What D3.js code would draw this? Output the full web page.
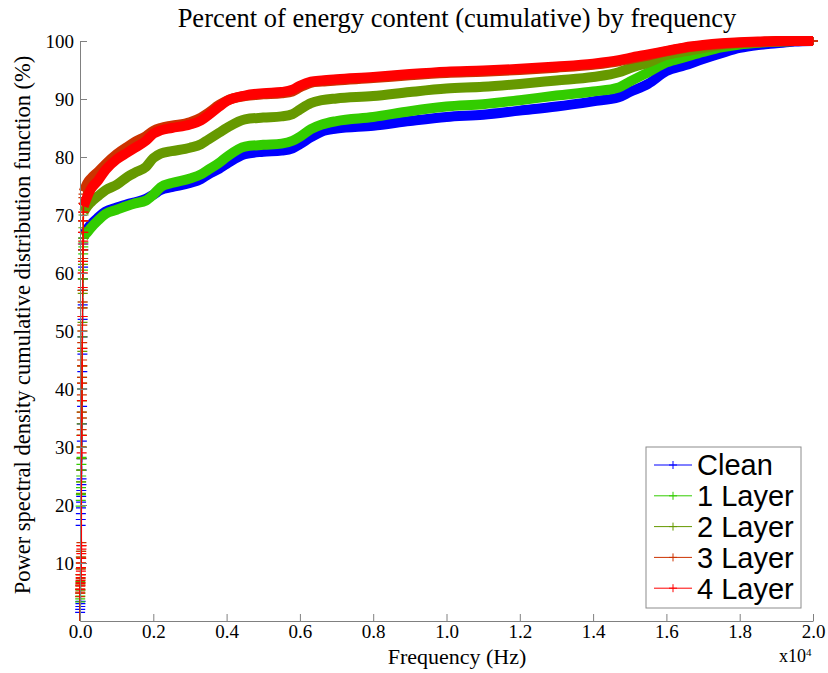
<!DOCTYPE html>
<html>
<head>
<meta charset="utf-8">
<script src="https://cdn.jsdelivr.net/npm/d3@7"></script>
<style>
  body { margin: 0; background: #ffffff; }
  svg { display: block; }
</style>
</head>
<body>
<svg id="chart" width="828" height="673"></svg>
<script>
// Series names and colours
const seriesNames = ["Clean", "1 Layer", "2 Layer", "3 Layer", "4 Layer"];
const seriesColors = ["#0000ff", "#33cc00", "#669900", "#cc3300", "#ff0000"];

// Lowest frequency bins (Hz): the steep initial rise of each CDF
const riseHz = [0, 3, 6, 9, 12, 15, 18, 21, 24, 27, 30, 33, 36, 39, 42, 45, 48,
  51, 54, 57, 60, 63, 66, 69, 72, 75, 78, 81, 84, 87, 90, 93, 96];
const riseClean  = [0, 1.5, 2, 2.5, 3, 3.4, 16.5, 17.5, 18.5, 19.5, 20.5, 21.5, 22.5, 23.5, 24.5, 26, 28,
  31, 34, 37, 40, 43, 46, 49, 52, 54.5, 57, 59, 61, 62.5, 64, 65, 66];
const riseLayer1 = [0, 3.3, 3.8, 4.3, 4.8, 5.3, 19.8, 20.8, 21.8, 23, 24, 25, 26, 27, 28.2, 30, 32,
  35, 38, 41, 44, 47, 50, 52.5, 55, 57, 59, 60.5, 62, 63.3, 64.5, 65.3, 66];
const riseLayer2 = [0, 5.5, 6.2, 6.8, 8, 9, 10, 11, 12, 22, 24, 26, 28, 30, 32, 34, 36,
  38, 40, 42, 44, 46.5, 49, 51.5, 54, 56.5, 59, 61.5, 64, 66, 67.8, 69, 70];
const riseLayer3 = [0, 4.2, 5, 5.5, 6.2, 6.6, 7.3, 8, 9, 10, 11, 12, 13, 13.5, 30, 33, 36,
  39, 42, 45, 48, 51, 54, 57, 60, 62.5, 65, 67, 69, 70.5, 72, 73, 73.6];
const riseLayer4 = [0, 4.8, 5.4, 6, 6.5, 7, 7.5, 8, 8.6, 9.2, 10, 10.8, 11.6, 12.4, 13, 29, 32,
  35, 38, 41, 44, 47, 50, 52.5, 55, 57.5, 60, 62, 64, 65.5, 67, 69, 70.5];

// Remaining spectrum (Hz) and cumulative energy (%)
const curveHz = [100, 200, 300, 500, 700, 1000, 1300, 1500, 1800, 2000,
  2200, 2500, 3000, 3300, 3500, 3800, 4000, 4500, 5000, 5500,
  5800, 6000, 6300, 6600, 7000, 8000, 9000, 10000, 11000, 12000,
  13000, 14000, 14700, 15000, 15500, 16000, 16500, 17000, 17500, 18000,
  18500, 19000, 19500, 20000];
const curveClean = [66.5, 67.6, 68.4, 69.6, 70.6, 71.3, 71.9, 72.2, 72.8, 73.5,
  74.3, 74.8, 75.5, 76.2, 77, 78, 78.8, 80.5, 80.9, 81.1,
  81.5, 82.2, 83.4, 84.4, 84.9, 85.4, 86.2, 86.9, 87.3, 88,
  88.7, 89.6, 90.3, 91.2, 92.6, 94.8, 95.8, 96.9, 97.9, 98.8,
  99.3, 99.6, 99.9, 100];
const curveLayer1 = [66.3, 67, 67.8, 69.1, 70.2, 70.9, 71.6, 72, 72.5, 73.5,
  74.8, 75.5, 76.3, 77, 77.8, 79, 80, 81.8, 82.1, 82.3,
  82.8, 83.5, 84.8, 85.6, 86.2, 86.9, 87.9, 88.7, 89.1, 89.8,
  90.6, 91.3, 92, 93, 94.6, 96.3, 97.2, 98.1, 98.9, 99.4,
  99.7, 99.9, 100, 100];
const curveLayer2 = [70.5, 71.5, 72.2, 73.3, 74.3, 75.2, 76.6, 77.3, 78.3, 79.8,
  80.6, 81, 81.6, 82.2, 83, 84.2, 85, 86.5, 86.8, 87,
  87.4, 88.2, 89.3, 89.8, 90.1, 90.5, 91.2, 91.8, 92.1, 92.6,
  93.2, 93.8, 94.6, 95.3, 96.3, 97.6, 98.2, 98.8, 99.3, 99.6,
  99.8, 99.9, 100, 100];
const curveLayer3 = [74, 75.5, 76.3, 77.5, 78.8, 80.5, 81.8, 82.6, 83.6, 84.5,
  85, 85.4, 86, 86.8, 87.6, 89, 89.7, 90.5, 90.8, 91,
  91.3, 92, 92.8, 93, 93.2, 93.6, 94.1, 94.5, 94.7, 95,
  95.4, 95.9, 96.5, 96.9, 97.5, 98.2, 98.8, 99.2, 99.5, 99.7,
  99.8, 99.9, 100, 100];
const curveLayer4 = [71.5, 73.2, 74.5, 76, 77.8, 79.6, 80.8, 81.6, 82.8, 84,
  84.6, 85, 85.6, 86.3, 87.2, 88.7, 89.6, 90.6, 91, 91.2,
  91.6, 92.3, 93, 93.2, 93.4, 93.8, 94.3, 94.7, 94.9, 95.2,
  95.6, 96.1, 96.7, 97.1, 97.7, 98.3, 98.9, 99.3, 99.6, 99.8,
  99.9, 100, 100, 100];

// Axis ticks
const xTicks = [0, 2000, 4000, 6000, 8000, 10000, 12000, 14000, 16000, 18000, 20000];
const yTicks = [10, 20, 30, 40, 50, 60, 70, 80, 90, 100];

const riseValues = [riseClean, riseLayer1, riseLayer2, riseLayer3, riseLayer4];
const curveValues = [curveClean, curveLayer1, curveLayer2, curveLayer3, curveLayer4];

const series = seriesNames.map((name, i) => ({
  name,
  color: seriesColors[i],
  rise: riseHz.map((f, j) => ({ f, v: riseValues[i][j] })),
  curve: curveHz.map((f, j) => ({ f, v: curveValues[i][j] }))
}));

const svg = d3.select("#chart");
const serif = "'Liberation Serif', 'Times New Roman', serif";
const sans = "'Liberation Sans', Arial, Helvetica, sans-serif";

const x = d3.scaleLinear().domain([0, 20000]).range([80, 813]);
const y = d3.scaleLinear().domain([0, 100]).range([621, 41]);

// Title
svg.append("text")
  .attr("x", 457).attr("y", 27)
  .attr("text-anchor", "middle")
  .style("font-family", serif).style("font-size", "26.5px")
  .text("Percent of energy content (cumulative) by frequency");

// Curves: thin trace + cross markers for the steep rise, heavy band for the rest
const plot = svg.append("g");
const thinLine = d3.line().x(d => x(d.f)).y(d => y(d.v));
const bandLine = d3.line().x(d => x(d.f)).y(d => y(d.v)).curve(d3.curveMonotoneX);
const cross = "M-5,0H5M0,-4V4";

series.forEach(s => {
  const g = plot.append("g");
  g.append("path")
    .datum(s.rise.concat(s.curve))
    .attr("d", thinLine)
    .attr("fill", "none")
    .attr("stroke", s.color)
    .attr("stroke-width", 1);
  g.selectAll("path.mk")
    .data(s.rise.slice(1))
    .join("path")
    .attr("class", "mk")
    .attr("d", cross)
    .attr("transform", d => `translate(${x(d.f)},${y(d.v)})`)
    .attr("stroke", s.color)
    .attr("stroke-width", 1.2)
    .attr("fill", "none");
  g.append("path")
    .datum(s.curve)
    .attr("d", bandLine)
    .attr("fill", "none")
    .attr("stroke", s.color)
    .attr("stroke-width", 10)
    .attr("stroke-linejoin", "round")
    .attr("stroke-linecap", "butt");
  const last = s.curve[s.curve.length - 1];
  g.append("path")
    .attr("d", cross)
    .attr("transform", `translate(${x(last.f)},${y(last.v)})`)
    .attr("stroke", s.color)
    .attr("fill", "none");
});

// Axes
const axisColor = "#808080";
const xAxis = svg.append("g")
  .attr("transform", `translate(0,${y(0)})`)
  .call(d3.axisBottom(x).tickValues(xTicks).tickSizeInner(-7).tickSizeOuter(0).tickPadding(4)
    .tickFormat(d => (d / 10000).toFixed(1)));
const yAxis = svg.append("g")
  .attr("transform", `translate(${x(0)},0)`)
  .call(d3.axisLeft(y).tickValues(yTicks).tickSizeInner(-7).tickSizeOuter(0).tickPadding(6)
    .tickFormat(d3.format("d")));
[xAxis, yAxis].forEach(a => {
  a.select(".domain").attr("stroke", axisColor);
  a.selectAll(".tick line").attr("stroke", axisColor);
  a.selectAll(".tick text")
    .attr("fill", "#000")
    .style("font-family", serif).style("font-size", "19px");
});

// Axis titles
svg.append("text")
  .attr("x", 457).attr("y", 664)
  .attr("text-anchor", "middle")
  .style("font-family", serif).style("font-size", "22px")
  .text("Frequency (Hz)");

const mult = svg.append("text")
  .attr("x", 779).attr("y", 662)
  .style("font-family", serif).style("font-size", "18px");
mult.append("tspan").text("x10");
mult.append("tspan").attr("dy", -6).style("font-size", "11px").text("4");

svg.append("text")
  .attr("transform", "translate(30,325) rotate(-90)")
  .attr("text-anchor", "middle")
  .style("font-family", serif).style("font-size", "22.5px")
  .text("Power spectral density cumulative distribution function (%)");

// Legend
const legend = svg.append("g");
legend.append("rect")
  .attr("x", 646).attr("y", 447).attr("width", 155).attr("height", 161)
  .attr("fill", "#fff").attr("stroke", "#8c8c8c").attr("stroke-width", 1);
const rows = legend.selectAll("g.row")
  .data(series)
  .join("g")
  .attr("class", "row")
  .attr("transform", (d, i) => `translate(0,${465 + i * 30.8})`);
rows.append("line")
  .attr("x1", 654).attr("x2", 692)
  .attr("stroke", d => d.color).attr("stroke-width", 1);
rows.append("path")
  .attr("d", "M-4,0H4M0,-4V4")
  .attr("transform", "translate(673,0)")
  .attr("stroke", d => d.color).attr("fill", "none");
rows.append("text")
  .attr("x", 697).attr("y", 0)
  .attr("dy", "0.36em")
  .style("font-family", sans).style("font-size", "29px")
  .text(d => d.name);
</script>
</body>
</html>
